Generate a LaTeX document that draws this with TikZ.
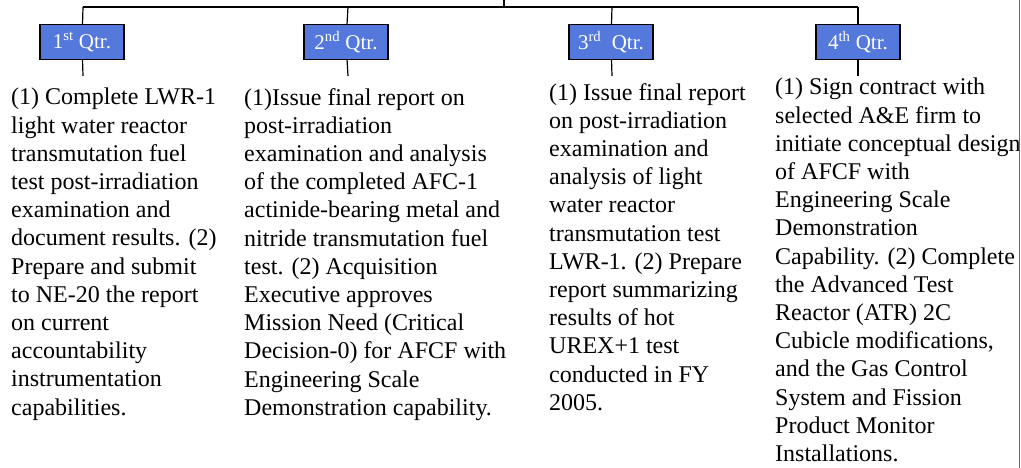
\documentclass[tikz,border=0pt]{standalone}
\usepackage{fontspec}
\setmainfont{Liberation Serif}
\usepackage{tikz}

\definecolor{qtrblue}{RGB}{84,120,220}
\definecolor{edgeblue}{RGB}{70,110,200}

\tikzset{
  qtr/.style={draw=black, line width=1.4pt, fill=qtrblue, text=white,
    minimum width=84pt, minimum height=35pt, inner sep=0pt,
    font=\fontsize{21}{23}\selectfont},
  task/.style={anchor=north west, align=left, inner sep=0pt,
    font=\fontsize{24}{28.2}\selectfont},
  wire/.style={line width=1.2pt}
}

\begin{document}
\begin{tikzpicture}[x=1pt,y=-1pt]
            \useasboundingbox (0,0) rectangle (1021,468);
            \coordinate (top) at (504,0);
            \coordinate (mid) at (504,7);
            \coordinate (b1) at (83,7);
            \coordinate (b2) at (348,7);
            \coordinate (b3) at (612,7);
            \coordinate (b4) at (858,7);
            \node[qtr] at (82,42) (q1) {1\textsuperscript{st} Qtr.};
            \node[qtr] at (346,42) (q2) {2\textsuperscript{nd} Qtr.};
            \node[qtr] at (611,42) (q3) {3\textsuperscript{rd}\ \ Qtr.};
            \node[qtr] at (858,42) (q4) {4\textsuperscript{th} Qtr.};
            \coordinate (e1) at (83,76);
            \coordinate (e2) at (348,76);
            \coordinate (e3) at (612,76);
            \coordinate (e4) at (858,76);
            \node[task] at (11,88) (t1) {(1) Complete LWR-1\\light water reactor\\transmutation fuel\\test post-irradiation\\examination and\\document results. (2)\\Prepare and submit\\to NE-20 the report\\on current\\accountability\\instrumentation\\capabilities.};
            \node[task] at (244,88) (t2) {(1)Issue final report on\\post-irradiation\\examination and analysis\\of the completed AFC-1\\actinide-bearing metal and\\nitride transmutation fuel\\test. (2) Acquisition\\Executive approves\\Mission Need (Critical\\Decision-0) for AFCF with\\Engineering Scale\\Demonstration capability.};
            \node[task] at (549,83) (t3) {(1) Issue final report\\on post-irradiation\\examination and\\analysis of light\\water reactor\\transmutation test\\LWR-1. (2) Prepare\\report summarizing\\results of hot\\UREX+1 test\\conducted in FY\\2005.};
            \node[task] at (775,78) (t4) {(1) Sign contract with\\selected A\&E firm to\\initiate conceptual design\\of AFCF with\\Engineering Scale\\Demonstration\\Capability. (2) Complete\\the Advanced Test\\Reactor (ATR) 2C\\Cubicle modifications,\\and the Gas Control\\System and Fission\\Product Monitor\\Installations.};
            \draw[wire] (top) to (mid);
            \draw[wire] (b1) to (b4);
            \draw[wire] (b1) to (q1);
            \draw[wire] (b2) to (q2);
            \draw[wire] (b3) to (q3);
            \draw[wire] (b4) to (q4);
            \draw[wire] (q1) to (e1);
            \draw[wire] (q2) to (e2);
            \draw[wire] (q3) to (e3);
            \draw[wire] (q4) to (e4);
            \draw[edgeblue, line width=1pt] (1019,0) -- (1019,468);
        \end{tikzpicture}
\end{document}
